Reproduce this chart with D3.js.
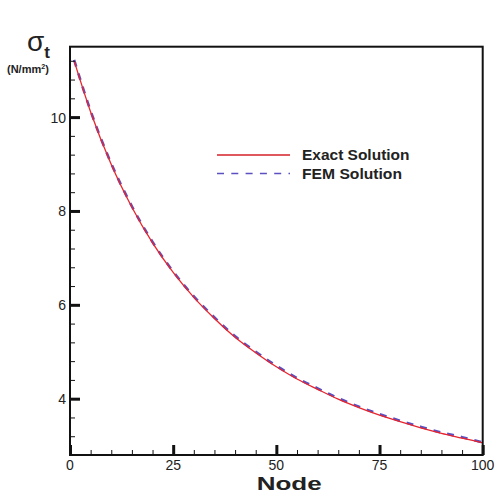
<!DOCTYPE html>
<html><head><meta charset="utf-8">
<script src="https://cdn.jsdelivr.net/npm/d3@7"></script>
<style>body{margin:0;background:#fff}svg{display:block}text{font-family:"Liberation Sans",Arial,sans-serif}</style>
</head><body><svg id="c" width="498" height="493"></svg>
<script>
const nodes = [1,5,10,15,20,25,30,35,40,45,50,55,60,65,70,75,80,85,90,95,100];
const exact = [11.20,10.11,8.99,8.08,7.32,6.69,6.16,5.71,5.31,4.98,4.68,4.42,4.20,3.99,3.81,3.65,3.51,3.38,3.26,3.16,3.06];
const fem   = [11.22,10.13,9.01,8.10,7.34,6.71,6.18,5.73,5.33,5.00,4.70,4.44,4.22,4.01,3.83,3.67,3.53,3.40,3.28,3.18,3.07];
const xTicks = [0,25,50,75,100];
const yTicks = [4,6,8,10];
const seriesNames = ["Exact Solution","FEM Solution"];

const svg = d3.select("#c");
const L=70,T=46.7,R=482.7,B=455;
const x = d3.scaleLinear().domain([0,100]).range([L,R]);
const y = d3.scaleLinear().domain([2.8,11.5]).range([B,T]);

const line = d3.line().x(d=>x(d[0])).y(d=>y(d[1])).curve(d3.curveMonotoneX);
svg.append("path").datum(nodes.map((n,i)=>[n,fem[i]])).attr("d",line)
  .attr("fill","none").attr("stroke","#5a50c0").attr("stroke-width",2.6).attr("stroke-dasharray","7,7");
svg.append("path").datum(nodes.map((n,i)=>[n,exact[i]])).attr("d",line)
  .attr("fill","none").attr("stroke","#e8242c").attr("stroke-width",1.3);

// x axis ticks
const xMinor = d3.range(0,101,5);
const gx = svg.append("g").attr("transform",`translate(0,${B})`);
gx.call(d3.axisTop(x).tickValues(xMinor).tickSize(5).tickFormat(""))
  .call(g=>g.select(".domain").remove())
  .call(g=>g.selectAll("line").attr("stroke","#111").attr("stroke-width",1));
gx.append("g").call(d3.axisTop(x).tickValues(xTicks).tickSize(10).tickFormat(""))
  .call(g=>g.select(".domain").remove())
  .call(g=>g.selectAll("line").attr("stroke","#111").attr("stroke-width",3));
gx.selectAll(".xl").data(xTicks).join("text").attr("class","xl")
  .attr("x",d=>x(d)).attr("y",15).attr("text-anchor","middle").attr("font-size",14).attr("fill","#222").text(d=>d);

// y axis ticks
const yMinor = d3.range(2.8,11.41,0.4).map(v=>+v.toFixed(1));
const gy = svg.append("g").attr("transform",`translate(${L},0)`);
gy.call(d3.axisRight(y).tickValues(yMinor).tickSize(5).tickFormat(""))
  .call(g=>g.select(".domain").remove())
  .call(g=>g.selectAll("line").attr("stroke","#111").attr("stroke-width",1));
gy.append("g").call(d3.axisRight(y).tickValues(yTicks).tickSize(10).tickFormat(""))
  .call(g=>g.select(".domain").remove())
  .call(g=>g.selectAll("line").attr("stroke","#111").attr("stroke-width",3));
gy.selectAll(".yl").data(yTicks).join("text").attr("class","yl")
  .attr("x",-4).attr("y",d=>y(d)+5.5).attr("text-anchor","end").attr("font-size",14).attr("fill","#222").text(d=>d);

// frame
svg.append("rect").attr("x",L).attr("y",T).attr("width",R-L).attr("height",B-T)
  .attr("fill","none").attr("stroke","#111").attr("stroke-width",2);

// legend
const lg = svg.append("g");
lg.append("line").attr("x1",217).attr("x2",290).attr("y1",155).attr("y2",155).attr("stroke","#d42028").attr("stroke-width",1.5);
lg.append("line").attr("x1",217).attr("x2",290).attr("y1",173.5).attr("y2",173.5).attr("stroke","#5a50c0").attr("stroke-width",1.6).attr("stroke-dasharray","7,7.3");
lg.selectAll("text").data(seriesNames).join("text").attr("x",302).attr("y",(d,i)=>160+i*18.5)
  .attr("font-size",14.5).attr("font-weight","bold").attr("fill","#222")
  .attr("textLength",(d,i)=>i?100:107.5).attr("lengthAdjust","spacingAndGlyphs").text(d=>d);

// axis titles
svg.append("text").attr("x",256.7).attr("y",490).attr("font-size",18.5).attr("font-weight","bold").attr("fill","#222")
  .attr("textLength",65).attr("lengthAdjust","spacingAndGlyphs").text("Node");
const yt = svg.append("text").attr("x",27).attr("y",51).attr("fill","#222");
yt.append("tspan").attr("font-size",28).text("σ");
yt.append("tspan").attr("font-size",17).attr("font-weight","bold").attr("dy",7).text("t");
const un = svg.append("text").attr("x",7).attr("y",73).attr("font-size",11).attr("font-weight","bold").attr("fill","#222");
un.append("tspan").text("(N/mm");
un.append("tspan").attr("font-size",7).attr("dy",-4).text("2");
un.append("tspan").attr("dy",4).text(")");
</script></body></html>
